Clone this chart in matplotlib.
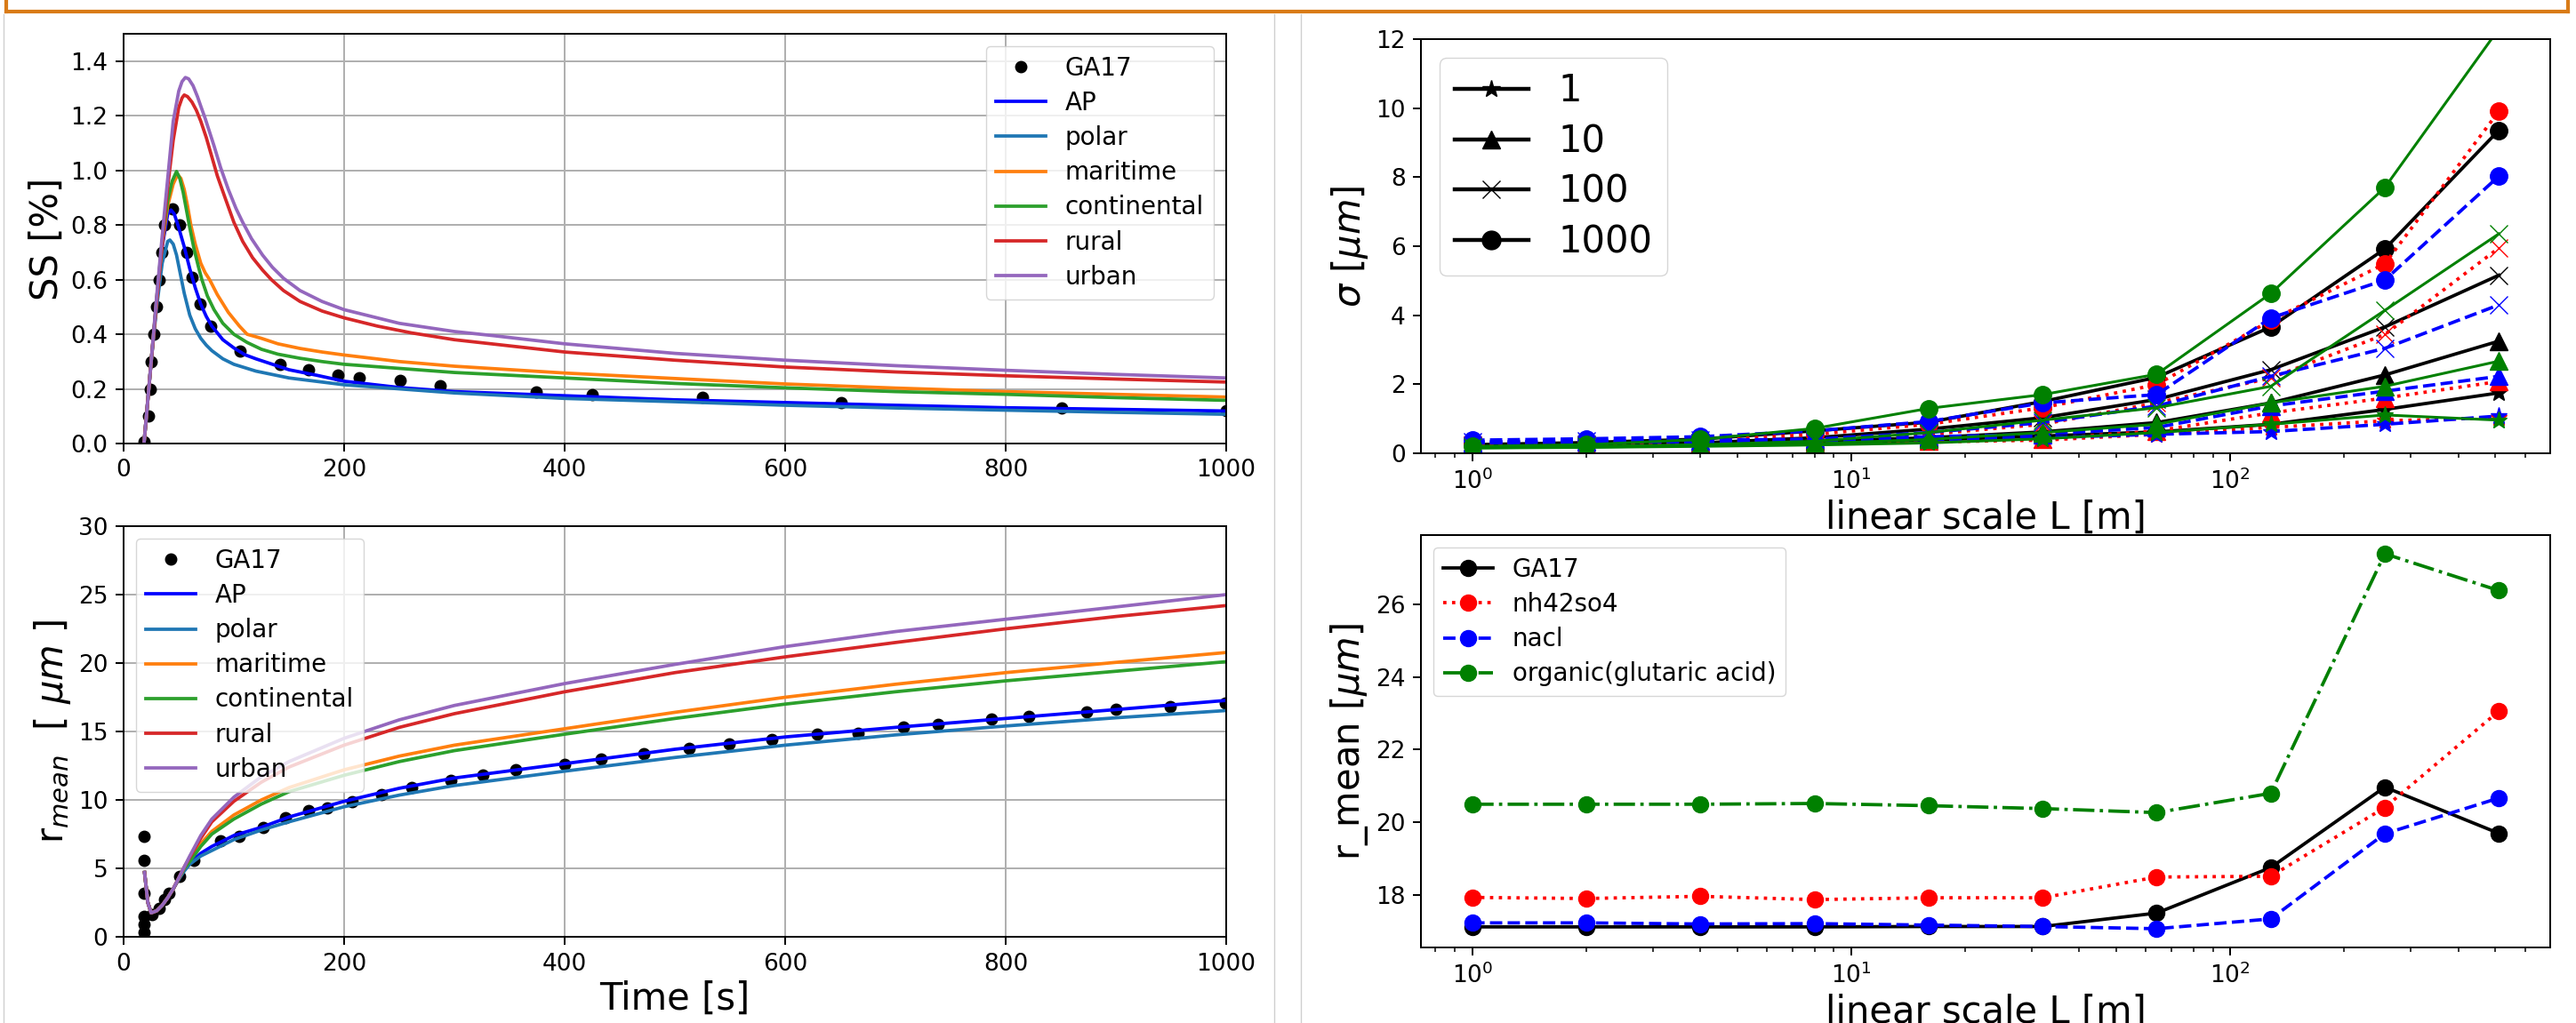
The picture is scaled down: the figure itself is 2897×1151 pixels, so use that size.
import numpy as np
import matplotlib
matplotlib.use("Agg")
import matplotlib.pyplot as plt
from matplotlib.lines import Line2D

W, H = 2897, 1151

# ---------------- left panel: parcel model time series ----------------
ga17_ss_t = [18.7, 22.4, 24, 25.4, 27.6, 29.9, 32, 35, 37, 44, 51, 57, 62, 69, 79, 106,
             142, 168, 194, 214, 251, 287, 374, 425, 525, 651, 851, 1000]
ga17_ss = [0.008, 0.10, 0.20, 0.30, 0.40, 0.50, 0.60, 0.70, 0.80, 0.86, 0.80, 0.70, 0.61,
           0.51, 0.43, 0.34, 0.29, 0.27, 0.25, 0.24, 0.23, 0.21, 0.19, 0.18, 0.17, 0.15,
           0.13, 0.12]

ss_ap_t = [18.5, 25, 30, 35, 40, 43, 46, 50, 55, 60, 65, 70, 75, 80, 90, 100, 110, 120,
           135, 150, 175, 200, 250, 300, 400, 500, 600, 700, 800, 900, 1000]
ss_ap = [0, 0.3, 0.52, 0.72, 0.84, 0.855, 0.84, 0.79, 0.72, 0.64, 0.57, 0.51, 0.465, 0.43,
         0.38, 0.35, 0.325, 0.31, 0.29, 0.27, 0.25, 0.228, 0.205, 0.19, 0.175, 0.16, 0.15,
         0.14, 0.131, 0.125, 0.119]

ss_polar_t = [18.5, 25, 30, 35, 40, 42, 45, 48, 51, 55, 60, 65, 70, 75, 80, 90, 100, 120,
              150, 200, 300, 400, 500, 600, 700, 800, 900, 1000]
ss_polar = [0, 0.3, 0.5, 0.66, 0.74, 0.745, 0.73, 0.69, 0.63, 0.55, 0.47, 0.42, 0.385, 0.36,
            0.34, 0.31, 0.29, 0.265, 0.24, 0.215, 0.185, 0.165, 0.153, 0.14, 0.13, 0.122,
            0.114, 0.107]

ss_mar_t = [18.5, 25, 30, 35, 40, 45, 49, 52, 55, 58, 61, 65, 70, 74, 78, 85, 95, 105, 112,
            125, 140, 160, 180, 200, 250, 300, 400, 500, 600, 700, 800, 900, 1000]
ss_mar = [0, 0.3, 0.53, 0.73, 0.87, 0.95, 0.985, 0.97, 0.93, 0.87, 0.8, 0.73, 0.66, 0.625,
          0.6, 0.545, 0.48, 0.43, 0.40, 0.385, 0.365, 0.348, 0.335, 0.324, 0.30, 0.283,
          0.258, 0.238, 0.218, 0.203, 0.19, 0.18, 0.17]

ss_cont_t = [18.5, 25, 30, 35, 40, 44, 48, 51, 54, 57, 60, 64, 68, 71, 76, 82, 90, 100, 112,
             125, 140, 160, 180, 200, 250, 300, 400, 500, 600, 700, 800, 900, 1000]
ss_cont = [0, 0.3, 0.53, 0.74, 0.89, 0.96, 0.996, 0.97, 0.92, 0.855, 0.79, 0.71, 0.645, 0.6,
           0.54, 0.49, 0.44, 0.4, 0.37, 0.345, 0.327, 0.312, 0.30, 0.29, 0.275, 0.26, 0.24,
           0.22, 0.204, 0.19, 0.18, 0.168, 0.158]

ss_rural_t = [18.5, 25, 30, 35, 40, 45, 50, 53, 55, 58, 62, 66, 70, 75, 80, 85, 92, 100,
              108, 117, 126, 134, 145, 160, 180, 200, 230, 261, 300, 400, 500, 600, 700,
              800, 900, 1000]
ss_rural = [0, 0.3, 0.52, 0.73, 0.94, 1.11, 1.23, 1.265, 1.276, 1.27, 1.25, 1.22, 1.18,
            1.12, 1.05, 0.98, 0.9, 0.81, 0.74, 0.68, 0.635, 0.6, 0.56, 0.52, 0.485, 0.46,
            0.43, 0.405, 0.38, 0.335, 0.305, 0.28, 0.262, 0.248, 0.236, 0.225]

ss_urban_t = [18.5, 25, 30, 35, 40, 45, 50, 53, 56, 59, 63, 67, 70, 74, 78, 82, 88, 95,
              102, 108, 116, 126, 135, 145, 160, 180, 200, 250, 300, 335, 400, 500, 600,
              700, 800, 900, 1000]
ss_urban = [0, 0.3, 0.54, 0.76, 0.97, 1.18, 1.29, 1.325, 1.34, 1.335, 1.31, 1.27, 1.235,
            1.19, 1.14, 1.09, 1.01, 0.93, 0.86, 0.81, 0.75, 0.69, 0.645, 0.605, 0.56, 0.52,
            0.49, 0.44, 0.41, 0.395, 0.365, 0.33, 0.305, 0.285, 0.268, 0.253, 0.24]

ga17_r_t = [18.7, 18.7, 18.7, 18.7, 18.7, 18.7, 26, 32, 37, 41, 51, 63.4, 88, 104.5, 127,
            147, 168, 185, 207, 234, 261, 297, 326, 356, 400, 433, 472, 513, 549, 588,
            629, 666, 707, 739, 787, 821, 873, 900, 949, 999]
ga17_r = [7.35, 5.56, 3.18, 1.47, 0.9, 0.3, 1.6, 2.1, 2.7, 3.2, 4.4, 5.56, 7.0, 7.35, 7.96,
          8.7, 9.2, 9.4, 9.9, 10.4, 10.9, 11.4, 11.8, 12.2, 12.6, 13.0, 13.35, 13.76, 14.1,
          14.4, 14.8, 14.9, 15.3, 15.55, 15.9, 16.1, 16.4, 16.6, 16.85, 17.1]

r_t = [19, 22, 25, 30, 35, 40, 45, 50, 55, 60, 70, 80, 100, 125, 150, 200, 250, 300, 400,
       500, 600, 700, 800, 900, 1000]
r_ap = [4.7, 2.5, 1.75, 1.9, 2.3, 2.85, 3.5, 4.2, 4.9, 5.4, 6.1, 6.6, 7.4, 8.0, 8.75, 9.9,
        10.85, 11.6, 12.65, 13.7, 14.6, 15.3, 15.95, 16.6, 17.27]
r_polar = [4.7, 2.5, 1.75, 1.9, 2.3, 2.85, 3.5, 4.2, 4.8, 5.3, 5.9, 6.3, 7.1, 7.8, 8.4, 9.5,
           10.35, 11.05, 12.1, 13.1, 14.0, 14.75, 15.4, 16.0, 16.53]
r_mar = [4.7, 2.5, 1.75, 1.9, 2.3, 2.85, 3.5, 4.25, 5.0, 5.6, 6.8, 7.7, 8.9, 10.0, 10.9,
         12.2, 13.2, 14.0, 15.2, 16.4, 17.5, 18.45, 19.3, 20.05, 20.77]
r_cont = [4.7, 2.5, 1.75, 1.9, 2.3, 2.85, 3.5, 4.25, 5.0, 5.5, 6.6, 7.5, 8.6, 9.7, 10.6,
          11.8, 12.8, 13.6, 14.8, 15.95, 17.0, 17.9, 18.7, 19.4, 20.1]
r_rural = [4.7, 2.5, 1.75, 1.9, 2.3, 2.85, 3.5, 4.3, 5.1, 5.8, 7.2, 8.4, 9.9, 11.3, 12.4,
           14.0, 15.3, 16.3, 17.9, 19.3, 20.45, 21.5, 22.5, 23.4, 24.2]
r_urban = [4.7, 2.5, 1.75, 1.9, 2.3, 2.85, 3.5, 4.3, 5.1, 5.9, 7.4, 8.6, 10.2, 11.7, 12.8,
           14.5, 15.85, 16.9, 18.5, 19.9, 21.2, 22.3, 23.2, 24.1, 25.0]

# ---------------- right panel: scale dependence ----------------
scale_L = [1, 2, 4, 8, 16, 32, 64, 128, 256, 512]
n_labels = ["1", "10", "100", "1000"]
n_markers = ["*", "^", "x", "o"]

# sigma [um], one row per N (1, 10, 100, 1000)
sig_ga17 = [[0.22, 0.24, 0.26, 0.30, 0.38, 0.50, 0.62, 0.84, 1.27, 1.75],
            [0.22, 0.25, 0.28, 0.35, 0.45, 0.62, 0.89, 1.46, 2.27, 3.25],
            [0.23, 0.26, 0.30, 0.45, 0.70, 1.03, 1.56, 2.42, 3.66, 5.16],
            [0.25, 0.31, 0.41, 0.65, 0.90, 1.50, 2.20, 3.66, 5.92, 9.36]]
sig_nh42so4 = [[0.20, 0.22, 0.25, 0.28, 0.33, 0.38, 0.55, 0.75, 0.94, 1.03],
               [0.20, 0.22, 0.26, 0.30, 0.36, 0.41, 0.65, 1.17, 1.60, 2.08],
               [0.22, 0.24, 0.28, 0.38, 0.55, 0.84, 1.46, 2.18, 3.44, 5.95],
               [0.25, 0.30, 0.36, 0.55, 0.84, 1.32, 1.99, 3.85, 5.49, 9.91]]
sig_nacl = [[0.30, 0.32, 0.33, 0.35, 0.40, 0.45, 0.55, 0.63, 0.84, 1.08],
            [0.32, 0.33, 0.35, 0.40, 0.48, 0.55, 0.75, 1.37, 1.80, 2.23],
            [0.33, 0.35, 0.38, 0.41, 0.60, 0.89, 1.37, 2.23, 3.04, 4.30],
            [0.38, 0.42, 0.48, 0.65, 0.92, 1.46, 1.70, 3.92, 5.02, 8.03]]
sig_organic = [[0.15, 0.17, 0.20, 0.24, 0.30, 0.42, 0.60, 0.84, 1.11, 0.96],
               [0.16, 0.18, 0.22, 0.28, 0.40, 0.60, 0.84, 1.46, 1.94, 2.67],
               [0.17, 0.20, 0.25, 0.35, 0.60, 0.96, 1.32, 1.94, 4.14, 6.36],
               [0.20, 0.25, 0.40, 0.72, 1.30, 1.70, 2.29, 4.63, 7.70, 12.3]]

rmean_ga17 = [17.13, 17.13, 17.13, 17.13, 17.14, 17.14, 17.51, 18.76, 20.97, 19.70]
rmean_nh42so4 = [17.94, 17.91, 17.97, 17.88, 17.93, 17.93, 18.50, 18.52, 20.41, 23.06]
rmean_nacl = [17.24, 17.24, 17.21, 17.22, 17.18, 17.14, 17.08, 17.35, 19.69, 20.67]
rmean_organic = [20.50, 20.50, 20.50, 20.52, 20.46, 20.38, 20.27, 20.80, 27.38, 26.37]

plt.rcParams.update({
    "font.size": 19,
    "axes.linewidth": 1.44,
    "xtick.major.size": 6.3, "ytick.major.size": 6.3,
    "xtick.major.width": 1.44, "ytick.major.width": 1.44,
    "xtick.minor.size": 3.6, "xtick.minor.width": 1.1,
    "xtick.major.pad": 6.3, "ytick.major.pad": 6.3,
    "xtick.labelsize": 19, "ytick.labelsize": 19,
    "lines.linewidth": 2.7,
    "grid.linewidth": 1.44,
    "legend.fontsize": 20,
    "legend.labelspacing": 0.4,
    "axes.labelsize": 30,
})


def ax_box(x0, y0, x1, y1):
    # pixel box (top-left origin) -> figure fraction rect
    return [x0 / W, 1 - y1 / H, (x1 - x0) / W, (y1 - y0) / H]


fig = plt.figure(figsize=(W / 100, H / 100), dpi=100)

# slide decorations: orange frame on top, grey image borders
orange = "#d97b17"
fig.add_artist(Line2D([7 / W, 2888 / W], [1 - 13 / H, 1 - 13 / H], color=orange, lw=3,
                      transform=fig.transFigure))
for xp in (7, 2888):
    fig.add_artist(Line2D([xp / W, xp / W], [1 - 13 / H, 1.0], color=orange, lw=3,
                          transform=fig.transFigure))
for xp in (4, 1433, 1463):
    fig.add_artist(Line2D([xp / W, xp / W], [0, 1 - 16 / H], color="#cfcfcf", lw=1,
                          transform=fig.transFigure))

# --- SS vs time
ax1 = fig.add_axes(ax_box(139, 38, 1379, 499))
ax1.plot(ga17_ss_t, ga17_ss, "o", color="k", ms=9, label="GA17")
ax1.plot(ss_ap_t, ss_ap, color="b", label="AP")
ax1.plot(ss_polar_t, ss_polar, color="C0", label="polar")
ax1.plot(ss_mar_t, ss_mar, color="C1", label="maritime")
ax1.plot(ss_cont_t, ss_cont, color="C2", label="continental")
ax1.plot(ss_rural_t, ss_rural, color="C3", label="rural")
ax1.plot(ss_urban_t, ss_urban, color="C4", label="urban")
ax1.set_xlim(0, 1000)
ax1.set_ylim(0, 1.5)
ax1.set_yticks(np.arange(0, 1.41, 0.2))
ax1.set_ylabel("SS [%]")
ax1.grid(True)
ax1.legend(loc="upper right")

# --- r_mean vs time
ax2 = fig.add_axes(ax_box(139, 592, 1379, 1054))
ax2.plot(ga17_r_t, ga17_r, "o", color="k", ms=9, label="GA17")
ax2.plot(r_t, r_ap, color="b", label="AP")
ax2.plot(r_t, r_polar, color="C0", label="polar")
ax2.plot(r_t, r_mar, color="C1", label="maritime")
ax2.plot(r_t, r_cont, color="C2", label="continental")
ax2.plot(r_t, r_rural, color="C3", label="rural")
ax2.plot(r_t, r_urban, color="C4", label="urban")
ax2.set_xlim(0, 1000)
ax2.set_ylim(0, 30)
ax2.set_xlabel("Time [s]")
ax2.set_ylabel(r"r$_{mean}$  [ $\mu m$ ]")
ax2.grid(True)
ax2.legend(loc="upper left")

# --- sigma vs linear scale
ax3 = fig.add_axes(ax_box(1598, 44, 2868, 510))
styles = [(sig_ga17, "k", "-"), (sig_nh42so4, "r", ":"),
          (sig_nacl, "b", "--"), (sig_organic, "g", "-")]
for rows, col, ls in styles:
    for vals, mk in zip(rows, n_markers):
        ax3.plot(scale_L, vals, color=col, ls=ls, marker=mk, ms=14,
                 lw=2.7 if col != "g" else 2.2)
ax3.set_xscale("log")
ax3.set_ylim(0, 12)
ax3.set_xlabel("linear scale L [m]")
ax3.set_ylabel(r"$\sigma$ [$\mu m$]")
handles = [Line2D([], [], color="k", marker=mk, ms=15, lw=3.2, label=lab)
           for mk, lab in zip(n_markers, n_labels)]
ax3.legend(handles=handles, loc="upper left", fontsize=30, labelspacing=0.35)

# --- r_mean vs linear scale
ax4 = fig.add_axes(ax_box(1598, 602, 2868, 1066))
ax4.plot(scale_L, rmean_ga17, "k-o", ms=13, label="GA17")
ax4.plot(scale_L, rmean_nh42so4, "r:o", ms=13, label="nh42so4")
ax4.plot(scale_L, rmean_nacl, "b--o", ms=13, label="nacl")
ax4.plot(scale_L, rmean_organic, "g-.o", ms=13, label="organic(glutaric acid)")
ax4.set_xscale("log")
ax4.set_xlabel("linear scale L [m]")
ax4.set_ylabel(r"r_mean [$\mu m$]")
ax4.legend(loc="upper left")

fig.savefig("out.png", dpi=100)
